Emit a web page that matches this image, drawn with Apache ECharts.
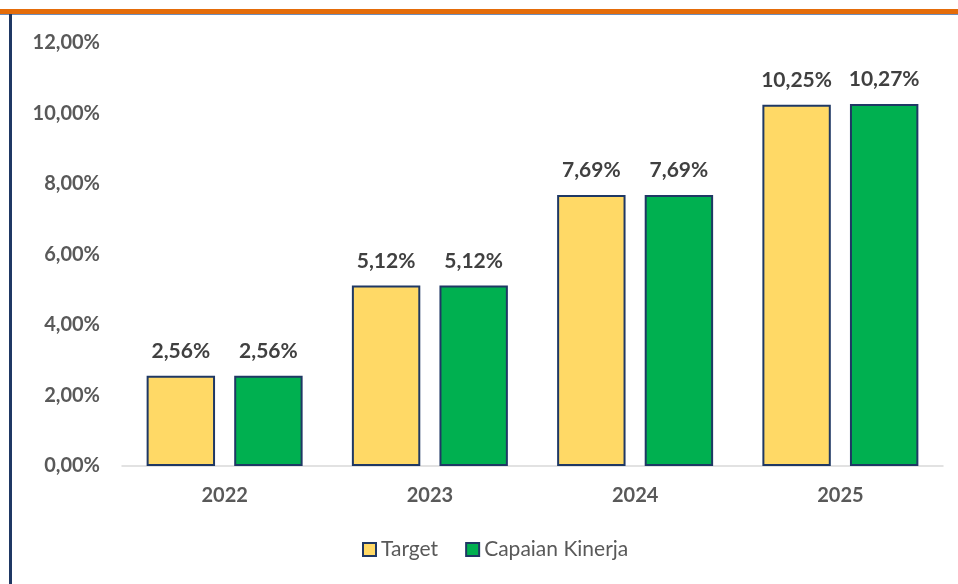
<!DOCTYPE html>
<html><head><meta charset="utf-8">
<script src="https://cdn.jsdelivr.net/npm/echarts@6/dist/echarts.min.js"></script>
<style>html,body{margin:0;padding:0;background:#fff}#c{width:958px;height:584px}</style>
</head><body><div id="c"></div>
<script>
const categories = ['2022','2023','2024','2025'];
const targetValues = [2.56, 5.12, 7.69, 10.25];
const capaianValues = [2.56, 5.12, 7.69, 10.27];
const seriesNames = ['Target','Capaian Kinerja'];
const yTicks = [0,2,4,6,8,10,12];

const fmt = v => v.toFixed(2).replace('.', ',') + '%';
const chart = echarts.init(document.getElementById('c'));
const FONT = 'Lato';
chart.setOption({
  animation:false,
  textStyle:{fontFamily:FONT},
  graphic:[
    {type:'rect',shape:{x:0,y:9,width:958,height:5},style:{fill:'#E46C0A'}},
    {type:'rect',shape:{x:0,y:14,width:958,height:1},style:{fill:'#6E8CB8'}},
    {type:'rect',shape:{x:9,y:14,width:3,height:570},style:{fill:'#1F3864'}}
  ],
  grid:{left:122,right:15,top:43,bottom:118},
  legend:{bottom:19,left:357,itemWidth:13,itemHeight:13,itemGap:27,itemStyle:{borderWidth:2},
    icon:'rect',
    textStyle:{fontSize:21,color:'#595959',fontFamily:FONT},
    data:seriesNames},
  xAxis:{type:'category',data:categories,
    axisLine:{lineStyle:{color:'#D9D9D9',width:1.5}},axisTick:{show:false},
    axisLabel:{fontSize:20,fontWeight:'bold',color:'#595959',margin:20,fontFamily:FONT}},
  yAxis:{type:'value',min:0,max:12,interval:2,
    splitLine:{show:false},axisLine:{show:false},axisTick:{show:false},
    axisLabel:{fontSize:20,fontWeight:'bold',color:'#595959',margin:22,fontFamily:FONT,
      formatter:v=>fmt(v)}},
  series:[
    {name:seriesNames[0],type:'bar',data:targetValues,barCategoryGap:'24%',barGap:'28%',
      itemStyle:{color:'#FFD966',borderColor:'#1F3864',borderWidth:2},
      label:{show:true,position:'top',distance:14,fontSize:21,fontWeight:'bold',color:'#404040',fontFamily:FONT,formatter:p=>fmt(p.value)}},
    {name:seriesNames[1],type:'bar',data:capaianValues,
      itemStyle:{color:'#00B050',borderColor:'#1F3864',borderWidth:2},
      label:{show:true,position:'top',distance:14,fontSize:21,fontWeight:'bold',color:'#404040',fontFamily:FONT,formatter:p=>fmt(p.value)}}
  ]
});
</script></body></html>
